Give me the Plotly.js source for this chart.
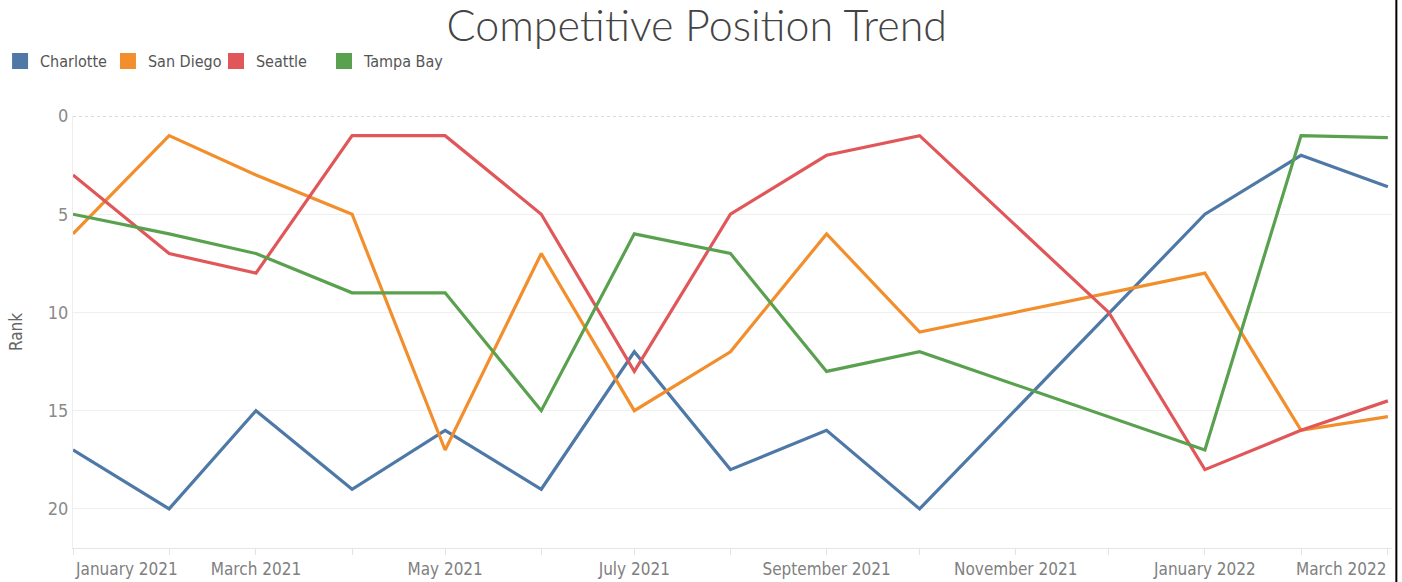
<!DOCTYPE html>
<html>
<head>
<meta charset="utf-8">
<script src="https://cdn.plot.ly/plotly-3.0.1.min.js"></script>
<style>
  html, body { margin: 0; padding: 0; background: #fff; }
  #chart { width: 1402px; height: 582px; }
</style>
</head>
<body>
<div id="chart"></div>
<script>
// Monthly dates (first of month)
const months = [
    '2021-01-01', '2021-02-01', '2021-03-01', '2021-04-01', '2021-05-01',
    '2021-06-01', '2021-07-01', '2021-08-01', '2021-09-01', '2021-10-01',
    '2021-11-01', '2021-12-01', '2022-01-01', '2022-02-01', '2022-03-01'
];

// Rank per city (null = no value that month, line connects across)
const charlotte = [17, 20, 15, 19, 16, 19, 12, 18, 16, 20, null, null, 5, 2, 3.6];
const sanDiego  = [6, 1, 3, 5, 17, 7, 15, 12, 6, 11, null, null, 8, 16, 15.3];
const seattle   = [3, 7, 8, 1, 1, 5, 13, 5, 2, 1, null, 10, 18, 16, 14.5];
const tampaBay  = [5, 6, 7, 9, 9, 15, 6, 7, 13, 12, null, null, 17, 1, 1.1];

const cities = ['Charlotte', 'San Diego', 'Seattle', 'Tampa Bay'];
const colors = ['#4e79a7', '#f28e2b', '#e15759', '#59a14f'];
const series = [charlotte, sanDiego, seattle, tampaBay];

// Axis labels
const labelDates = ['2021-01-01', '2021-03-01', '2021-05-01', '2021-07-01', '2021-09-01', '2021-11-01', '2022-01-01', '2022-03-01'];
const labelText = ['January 2021', 'March 2021', 'May 2021', 'July 2021', 'September 2021', 'November 2021', 'January 2022', 'March 2022'];
const rankTicks = [0, 5, 10, 15, 20];

const narrow = 'Liberation Sans Narrow, DejaVu Sans Condensed, Roboto, sans-serif';
const tickFont = { family: narrow, size: 17, color: '#808080' };

// one legend per city so the entries sit on a fixed pitch
const legendIds = ['legend', 'legend2', 'legend3', 'legend4'];
const legendX = [-0.0553, 0.0265, 0.1084, 0.1903];

const traces = [];
series.forEach((vals, i) => {
    traces.push({
        x: months,
        y: vals,
        mode: 'lines',
        name: cities[i],
        connectgaps: true,
        line: { color: colors[i], width: 3.2 },
        showlegend: false
    });
});
cities.forEach((c, i) => {
    traces.push({
        x: [null],
        y: [null],
        mode: 'markers',
        name: c,
        legend: legendIds[i],
        marker: { symbol: 'square', size: 16, color: colors[i] },
        showlegend: true
    });
});

// x tick text: middle labels on axis, edge labels via annotations
const tickText = months.map(m => {
    const k = labelDates.indexOf(m);
    if (k <= 0 || k === labelDates.length - 1) return '';
    return labelText[k];
});

const annotations = [
    { text: labelText[0], x: labelDates[0], xanchor: 'left' },
    { text: labelText[labelText.length - 1], x: labelDates[labelDates.length - 1], xanchor: 'right' }
].map(a => ({
    ...a,
    xref: 'x', yref: 'paper', y: 0, yanchor: 'top', yshift: -9,
    showarrow: false,
    font: tickFont
}));

const layout = {
    width: 1402,
    height: 582,
    margin: { l: 73, r: 10, t: 116, b: 34 },
    paper_bgcolor: '#fff',
    plot_bgcolor: '#fff',
    font: { family: narrow, color: '#555' },
    title: {
        text: 'Competitive Position Trend',
        x: 0.497, xanchor: 'center',
        y: 0.955, yanchor: 'middle',
        font: { family: 'Lato, Roboto, sans-serif', weight: 300, size: 43, color: '#444' }
    },
    showlegend: true,
    xaxis: {
        type: 'date',
        range: ['2021-01-01', '2022-03-02 08:00'],
        tickvals: months,
        ticktext: tickText,
        ticks: 'outside',
        ticklen: 6,
        tickcolor: '#e2e2e2',
        tickfont: tickFont,
        showgrid: false,
        showline: true,
        linecolor: '#e6e6e6',
        linewidth: 1,
        zeroline: false
    },
    yaxis: {
        range: [21.99, 0],
        tickvals: rankTicks,
        tickfont: { ...tickFont, size: 18, color: '#8a8a8a' },
        showgrid: true,
        gridcolor: '#efefef',
        showline: true,
        linecolor: '#eeeeee',
        zeroline: false,
        ticks: '',
        title: { text: 'Rank', font: { family: narrow, size: 17, color: '#666' }, standoff: 20 }
    },
    shapes: [
        { type: 'line', xref: 'paper', yref: 'y', x0: 0, x1: 1, y0: 0, y1: 0, line: { color: '#b5b5b5', width: 1, dash: 'dot' } },
        { type: 'line', xref: 'paper', yref: 'paper', x0: 1.0033, x1: 1.0033, y0: -0.1, y1: 1.3, line: { color: '#000', width: 2 } }
    ],
    annotations: annotations
};

legendIds.forEach((id, i) => {
    layout[id] = {
        orientation: 'h',
        xref: 'paper', yref: 'container',
        x: legendX[i], y: 0.895, xanchor: 'left', yanchor: 'middle',
        bgcolor: 'rgba(0,0,0,0)',
        font: { family: narrow, size: 16, color: '#555' },
        itemclick: false
    };
});

Plotly.newPlot('chart', traces, layout, { displayModeBar: false, staticPlot: true });
</script>
</body>
</html>
